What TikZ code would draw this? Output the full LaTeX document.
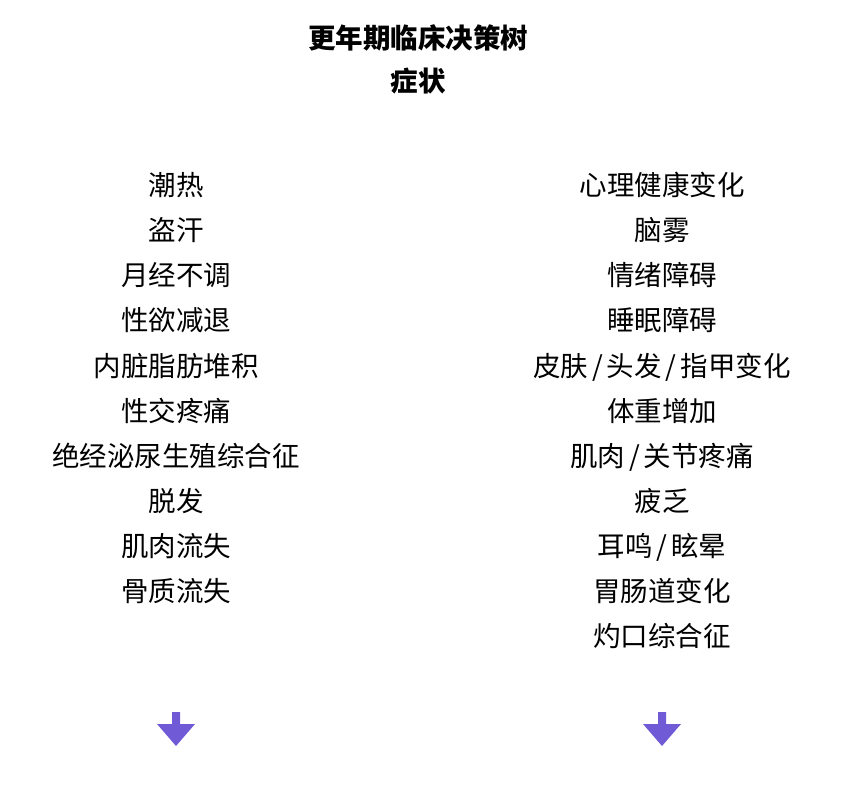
\documentclass[tikz,border=0pt]{standalone}
\usepackage{fontspec}
\setmainfont{Noto Sans CJK SC}
\definecolor{arrowpurple}{RGB}{112,90,214}
\newcommand{\slsep}{\hspace{4pt}/\hspace{4pt}}
\begin{document}
\begin{tikzpicture}[x=1pt,y=-1pt,
  item/.style={font=\fontsize{27.5}{30}\selectfont, inner sep=0pt, anchor=base, yshift=-10.5pt},
  ttl/.style={font=\fontsize{27.5}{30}\selectfont\bfseries, inner sep=0pt, anchor=base, yshift=-10.5pt},
  downarrow/.style={fill=arrowpurple, draw=none}]
\useasboundingbox (0,0) rectangle (857,796);
\node[ttl] (t1) at (418,38) {更年期临床决策树};
\node[ttl] (t2) at (418,81) {症状};
% left column
\node[item] (l1) at (176,185) {潮热};
\node[item] (l2) at (176,230) {盗汗};
\node[item] (l3) at (176,275) {月经不调};
\node[item] (l4) at (176,320) {性欲减退};
\node[item] (l5) at (176,366) {内脏脂肪堆积};
\node[item] (l6) at (176,411) {性交疼痛};
\node[item] (l7) at (176,456) {绝经泌尿生殖综合征};
\node[item] (l8) at (176,501) {脱发};
\node[item] (l9) at (176,546) {肌肉流失};
\node[item] (l10) at (176,591) {骨质流失};
% right column
\node[item] (r1) at (662,185) {心理健康变化};
\node[item] (r2) at (662,230) {脑雾};
\node[item] (r3) at (662,275) {情绪障碍};
\node[item] (r4) at (662,320) {睡眠障碍};
\node[item] (r5) at (662,366) {皮肤\slsep 头发\slsep 指甲变化};
\node[item] (r6) at (662,411) {体重增加};
\node[item] (r7) at (662,456) {肌肉\slsep 关节疼痛};
\node[item] (r8) at (662,501) {疲乏};
\node[item] (r9) at (662,546) {耳鸣\slsep 眩晕};
\node[item] (r10) at (662,591) {胃肠道变化};
\node[item] (r11) at (662,636) {灼口综合征};
% arrows
\foreach \cx/\nm in {176/la,662/ra}{
  \coordinate (\nm) at (\cx,729);
  \fill[downarrow] (\cx-4,712) -- (\cx+4,712) -- (\cx+4,724) -- (\cx+19,724) -- (\cx,746) -- (\cx-19,724) -- (\cx-4,724) -- cycle;
}
\end{tikzpicture}
\end{document}
